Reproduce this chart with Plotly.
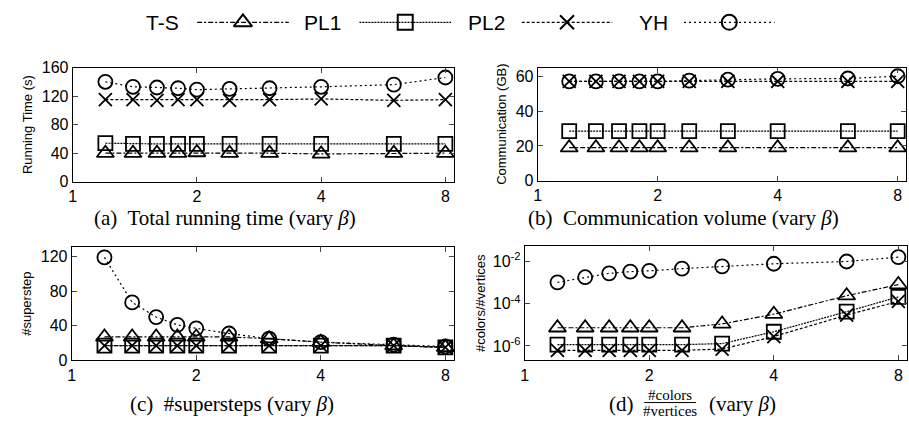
import plotly.graph_objects as go

# ---------------- data ----------------
SERIES = ["T-S", "PL1", "PL2", "YH"]
BETA = [1.2, 1.4, 1.6, 1.8, 2.0, 2.4, 3.0, 4.0, 6.0, 8.0]

time_ts = [40, 40, 40, 40, 41, 40, 40, 39, 40, 40]
time_pl1 = [54, 53, 53, 53, 53, 53, 53, 53, 53, 53]
time_pl2 = [115, 115, 114, 115, 115, 114, 115, 116, 114, 115]
time_yh = [140, 133, 132, 131, 129, 130, 131, 133, 136, 146]

comm_ts = [19, 19, 19, 19, 19, 19, 19, 19, 19, 19]
comm_pl1 = [28.5, 28.5, 28.5, 28.5, 28.5, 28.5, 28.5, 28.5, 28.5, 28.5]
comm_pl2 = [57, 57, 57, 57, 57, 57, 57, 57, 57, 57]
comm_yh = [57, 57, 57, 57, 57, 57.5, 58, 58.5, 58.7, 60]

steps_ts = [27, 27, 27, 27, 27, 27, 25, 21, 17, 15]
steps_pl1 = [17, 17, 17, 17, 17, 17, 17, 17, 17, 15]
steps_pl2 = [17, 17, 17, 17, 17, 17, 17, 17, 17, 15]
steps_yh = [119, 67, 50, 41, 37, 31, 25, 21, 18, 16]

ratio_ts = [7.3e-6, 7.3e-6, 7.3e-6, 7.3e-6, 7.3e-6, 7.3e-6, 1.1e-5, 3.2e-5, 2.4e-4, 8.1e-4]
ratio_pl1 = [1.15e-6, 1.15e-6, 1.15e-6, 1.15e-6, 1.15e-6, 1.15e-6, 1.3e-6, 4.7e-6, 4.2e-5, 2.1e-4]
ratio_pl2 = [6.2e-7, 6.2e-7, 6.2e-7, 6.2e-7, 6.2e-7, 6.2e-7, 7.1e-7, 2.8e-6, 2.9e-5, 1.3e-4]
ratio_yh = [1.03e-3, 1.8e-3, 2.75e-3, 3.3e-3, 3.6e-3, 4.6e-3, 5.9e-3, 7.8e-3, 1.0e-2, 1.6e-2]

X_TICKS = [1, 2, 4, 8]

# ---------------- styles ----------------
SYMBOLS = ["triangle-up-open", "square-open", "x-thin-open", "circle-open"]
DASHES = ["5px,2px,2px,2px", "2px,1px", "3px,2px", "2px,3px"]
MSIZE = [15, 14, 13, 14]

panels = [
    ("x", "y", [time_ts, time_pl1, time_pl2, time_yh]),
    ("x2", "y2", [comm_ts, comm_pl1, comm_pl2, comm_yh]),
    ("x3", "y3", [steps_ts, steps_pl1, steps_pl2, steps_yh]),
    ("x4", "y4", [ratio_ts, ratio_pl1, ratio_pl2, ratio_yh]),
]

fig = go.Figure()
for xa, ya, data in panels:
    for i, vals in enumerate(data):
        fig.add_trace(go.Scatter(
            x=BETA, y=vals, xaxis=xa, yaxis=ya, mode="lines+markers",
            name=SERIES[i], showlegend=False,
            line=dict(color="black", width=1.2, dash=DASHES[i]),
            marker=dict(symbol=SYMBOLS[i], size=MSIZE[i], color="black",
                        line=dict(color="black", width=1.8)),
        ))

# ---------------- custom legend (label then sample) ----------------
LEG_TEXT_X = [159, 320, 485, 652]
LEG_LINE = [(194, 286), (357, 449), (520, 611), (683, 774)]
for i, name in enumerate(SERIES):
    x0, x1 = LEG_LINE[i]
    fig.add_trace(go.Scatter(
        x=[x0, x1], y=[0.5, 0.5], xaxis="x5", yaxis="y5", mode="lines",
        showlegend=False, hoverinfo="skip",
        line=dict(color="black", width=1.2, dash=DASHES[i])))
    fig.add_trace(go.Scatter(
        x=[(x0 + x1) / 2], y=[0.5], xaxis="x5", yaxis="y5", mode="markers",
        showlegend=False, hoverinfo="skip",
        marker=dict(symbol=SYMBOLS[i], size=MSIZE[i] + 1, color="black",
                    line=dict(color="black", width=2))))

W, H = 909, 425


def xd(l, r):
    return [l / W, r / W]


def yd(top, bottom):
    return [1 - bottom / H, 1 - top / H]


tickfont = dict(family="Liberation Sans, Arial", size=16, color="black")
titlefont = dict(family="Liberation Sans, Arial", size=13, color="black")

xcommon = dict(type="log", range=[0, 0.924], tickvals=X_TICKS,
               ticktext=[str(v) for v in X_TICKS], ticks="inside", ticklen=5,
               showline=True, linecolor="black", linewidth=1, mirror="ticks",
               showgrid=False, zeroline=False, tickfont=tickfont)
ycommon = dict(ticks="inside", ticklen=5, showline=True, linecolor="black",
               linewidth=1, mirror="ticks", showgrid=False, zeroline=False,
               tickfont=tickfont)

layout = dict(
    width=W, height=H, margin=dict(l=0, r=0, t=0, b=0),
    plot_bgcolor="white", paper_bgcolor="white", showlegend=False,
    xaxis=dict(xcommon, domain=xd(69, 452), anchor="y"),
    yaxis=dict(ycommon, domain=yd(62, 181), anchor="x", range=[0, 160],
               tickvals=[0, 40, 80, 120, 160],
               title=dict(text="Running Time (s)", font=titlefont, standoff=6)),
    xaxis2=dict(xcommon, domain=xd(536, 906), anchor="y2"),
    yaxis2=dict(ycommon, domain=yd(62, 180), anchor="x2", range=[0, 65],
                tickvals=[0, 20, 40, 60],
                title=dict(text="Communication (GB)", font=titlefont, standoff=6)),
    xaxis3=dict(xcommon, domain=xd(68, 452), anchor="y3"),
    yaxis3=dict(ycommon, domain=yd(249, 367), anchor="x3", range=[0, 131],
                tickvals=[0, 40, 80, 120],
                title=dict(text="#superstep", font=titlefont, standoff=6)),
    xaxis4=dict(xcommon, domain=xd(523, 907), anchor="y4"),
    yaxis4=dict(ycommon, domain=yd(248, 367), anchor="x4", type="log",
                range=[-6.68, -1.27], tickvals=[1e-6, 1e-4, 1e-2],
                ticktext=["10<sup>-6</sup>", "10<sup>-4</sup>", "10<sup>-2</sup>"],
                title=dict(text="#colors/#vertices", font=titlefont, standoff=4)),
    xaxis5=dict(domain=[0, 1], range=[0, W], visible=False, anchor="y5"),
    yaxis5=dict(domain=[0.93, 1.0], range=[0, 1], visible=False, anchor="x5"),
)
fig.update_layout(**layout)

legfont = dict(family="Liberation Sans, Arial", size=21, color="black")
for i, name in enumerate(SERIES):
    fig.add_annotation(x=LEG_TEXT_X[i], y=0.5, xref="x5", yref="y5", text=name,
                       showarrow=False, font=legfont, xanchor="center", yanchor="middle")

capfont = dict(family="Liberation Serif, Times New Roman", size=21, color="black")
captions = [
    (222, 219, "(a)  Total running time (vary <i>β</i>)"),
    (683, 219, "(b)  Communication volume (vary <i>β</i>)"),
    (229, 412, "(c)  #supersteps (vary <i>β</i>)"),
]
for cx, cy, txt in captions:
    fig.add_annotation(x=cx / W, y=1 - cy / H, xref="paper", yref="paper", text=txt,
                       showarrow=False, font=capfont, xanchor="center", yanchor="middle")

# caption (d) with a stacked fraction
fracfont = dict(family="Liberation Serif, Times New Roman", size=15, color="black")
fig.add_annotation(x=606 / W, y=1 - 412 / H, xref="paper", yref="paper", text="(d)",
                   showarrow=False, font=capfont, xanchor="left", yanchor="middle")
fig.add_annotation(x=669 / W, y=1 - 403 / H, xref="paper", yref="paper", text="#colors",
                   showarrow=False, font=fracfont, xanchor="center", yanchor="middle")
fig.add_annotation(x=669 / W, y=1 - 420 / H, xref="paper", yref="paper", text="#vertices",
                   showarrow=False, font=fracfont, xanchor="center", yanchor="middle")
fig.add_shape(type="line", xref="paper", yref="paper", x0=643 / W, x1=695 / W,
              y0=1 - 411 / H, y1=1 - 411 / H, line=dict(color="black", width=1))
fig.add_annotation(x=706 / W, y=1 - 412 / H, xref="paper", yref="paper",
                   text="(vary <i>β</i>)", showarrow=False, font=capfont,
                   xanchor="left", yanchor="middle")

fig.write_html("out.html", config={"displayModeBar": False},
               post_script="document.body.style.margin='0';"
                           "document.body.style.overflow='hidden';")
